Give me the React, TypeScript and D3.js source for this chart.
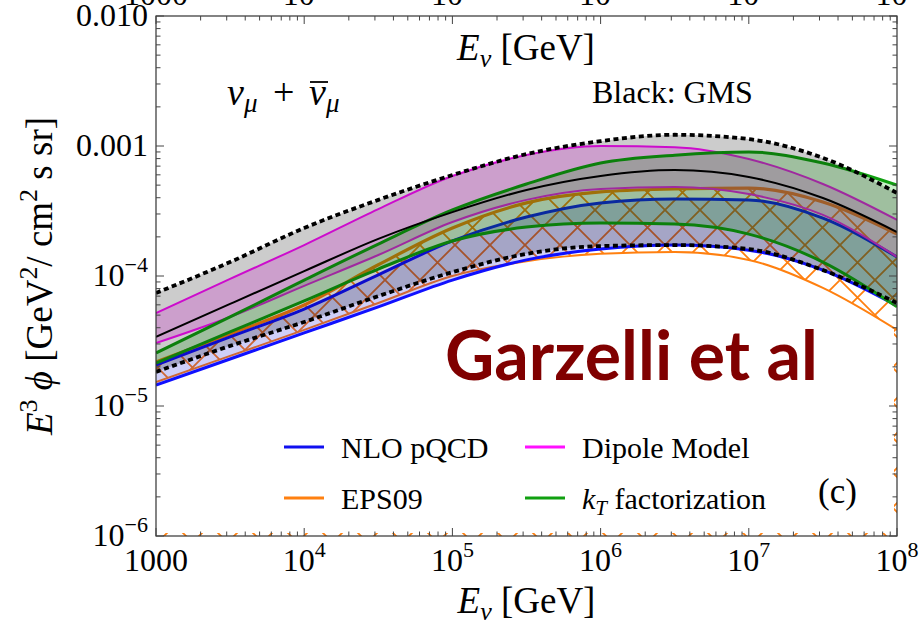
import React from 'react';
import * as d3 from 'd3';

// Neutrino energies (GeV), half-decade grid
const energy = [1000, 3162, 10000, 31623, 100000, 316228, 1000000, 3162278, 10000000, 31622777, 100000000];

// GMS (black): band and central
const gmsUpper = [7.4e-5, 1.28e-4, 2.34e-4, 3.85e-4, 5.98e-4, 8.67e-4, 1.09e-3, 1.22e-3, 1.13e-3, 8.1e-4, 4.35e-4];
const gmsCentral = [3.4e-5, 6.1e-5, 1.09e-4, 1.93e-4, 3.1e-4, 4.59e-4, 5.88e-4, 6.53e-4, 5.78e-4, 3.98e-4, 2.18e-4];
const gmsLower = [1.83e-5, 2.9e-5, 4.43e-5, 7.0e-5, 1.07e-4, 1.48e-4, 1.7e-4, 1.73e-4, 1.61e-4, 1.11e-4, 6.2e-5];
// Dipole model (magenta)
const dipoleUpper = [5.19e-5, 9.5e-5, 1.73e-4, 3.27e-4, 5.88e-4, 8.53e-4, 1.0e-3, 9.8e-4, 7.94e-4, 5.1e-4, 2.7e-4];
const dipoleLower = [3.05e-5, 4.84e-5, 8.4e-5, 1.45e-4, 2.6e-4, 3.85e-4, 4.67e-4, 4.84e-4, 4.27e-4, 2.95e-4, 1.4e-4];
// kT factorization (green)
const ktUpper = [2.56e-5, 4.84e-5, 9.3e-5, 1.76e-4, 3.22e-4, 5.1e-4, 7.4e-4, 8.5e-4, 9.0e-4, 7.4e-4, 5.0e-4];
const ktLower = [2.14e-5, 3.71e-5, 6.43e-5, 1.13e-4, 1.86e-4, 2.38e-4, 2.56e-4, 2.51e-4, 2.1e-4, 1.28e-4, 5.8e-5];
// NLO pQCD (blue)
const nloUpper = [2.07e-5, 3.4e-5, 5.57e-5, 1.02e-4, 1.86e-4, 2.84e-4, 3.65e-4, 3.91e-4, 3.85e-4, 2.79e-4, 1.4e-4];
const nloLower = [1.45e-5, 2.3e-5, 3.65e-5, 5.78e-5, 9.3e-5, 1.33e-4, 1.61e-4, 1.73e-4, 1.58e-4, 1.11e-4, 5.9e-5];
// EPS09 (orange, hatched)
const epsUpper = [2.18e-5, 3.58e-5, 5.98e-5, 1.22e-4, 2.34e-4, 3.65e-4, 4.43e-4, 4.67e-4, 4.75e-4, 3.71e-4, 2.1e-4];
const epsLower = [1.53e-5, 2.43e-5, 3.85e-5, 6.2e-5, 1.0e-4, 1.3e-4, 1.48e-4, 1.53e-4, 1.33e-4, 8.1e-5, 3.85e-5];

const xMajor = [1e3, 1e4, 1e5, 1e6, 1e7, 1e8];
const xMajorBase = ['1000', '10', '10', '10', '10', '10'];
const xMajorExp = ['', '4', '5', '6', '7', '8'];
const yMajor = [1e-6, 1e-5, 1e-4, 1e-3, 1e-2];
const yMajorBase = ['10', '10', '10', '0.001', '0.010'];
const yMajorExp = ['\u22126', '\u22125', '\u22124', '', ''];

const legendNames = ['NLO pQCD', 'EPS09', 'Dipole Model', 'factorization'];
const legendColors = ['#1010f0', '#ff8010', '#ff10ff', '#10a010'];

const SERIF = '"Liberation Serif", "Times New Roman", serif';

export default function App() {
  const W = 920, H = 632;
  const L = 156, R = 897, T = 16, B = 536;
  const x = d3.scaleLog().domain([1e3, 1e8]).range([L, R]);
  const y = d3.scaleLog().domain([1e-6, 1e-2]).range([B, T]);
  const curve = d3.curveMonotoneX;
  const line = (v: number[]) =>
    d3.line<number>().x((_, i) => x(energy[i])).y((d) => y(d)).curve(curve)(v) || '';
  const area = (lo: number[], hi: number[]) =>
    d3.area<number>().x((_, i) => x(energy[i])).y0((_, i) => y(lo[i])).y1((_, i) => y(hi[i])).curve(curve)(lo) || '';

  const xMinor: number[] = [];
  for (let d = 1e3; d < 1e8; d *= 10) for (let k = 2; k <= 9; k++) xMinor.push(d * k);
  const yMinor: number[] = [];
  for (let d = 1e-6; d < 1e-2 * 0.99; d *= 10) for (let k = 2; k <= 9; k++) yMinor.push(d * k);

  const tickColor = '#444';

  return (
    <svg width={W} height={H} style={{ position: 'absolute', left: 0, top: 0, background: '#fff' }}>
      <defs>
        <clipPath id="plotclip">
          <rect x={L} y={T} width={R - L} height={B - T} />
        </clipPath>
        <pattern id="hatch" patternUnits="userSpaceOnUse" width={35} height={35}>
          <path d="M0,0 L35,35 M35,0 L0,35 M-2,33 L2,37 M33,-2 L37,2 M-2,2 L2,-2 M33,37 L37,33" stroke="#ff8010" strokeWidth={1.8} fill="none" />
        </pattern>
      </defs>

      <g clipPath="url(#plotclip)">
        {/* EPS09 hatch residue along the frame */}
        <rect x={L} y={B - 3} width={R - L} height={3} fill="url(#hatch)" />
        <rect x={R - 3} y={y(4e-5)} width={3} height={B - y(4e-5)} fill="url(#hatch)" />
        {/* EPS09 */}
        <path d={area(epsLower, epsUpper)} fill="url(#hatch)" />
        <path d={line(epsUpper)} fill="none" stroke="#ff8010" strokeWidth={3.2} />
        <path d={line(epsLower)} fill="none" stroke="#ff8010" strokeWidth={2} />
        {/* NLO */}
        <path d={area(nloLower, nloUpper)} fill="rgb(0,0,220)" fillOpacity={0.19} />
        <path d={line(nloUpper)} fill="none" stroke="#1010ff" strokeWidth={3} />
        <path d={line(nloLower)} fill="none" stroke="#1010ff" strokeWidth={3} />
        {/* Dipole */}
        <path d={area(dipoleLower, dipoleUpper)} fill="rgb(255,0,255)" fillOpacity={0.22} />
        <path d={line(dipoleUpper)} fill="none" stroke="#ff10ff" strokeWidth={2} />
        <path d={line(dipoleLower)} fill="none" stroke="#ff10ff" strokeWidth={2} />
        {/* kT */}
        <path d={area(ktLower, ktUpper)} fill="rgb(0,180,0)" fillOpacity={0.22} />
        <path d={line(ktUpper)} fill="none" stroke="#10a010" strokeWidth={3} />
        <path d={line(ktLower)} fill="none" stroke="#10a010" strokeWidth={3} />
        {/* GMS */}
        <path d={area(gmsLower, gmsUpper)} fill="#000" fillOpacity={0.2} />
        <path d={line(gmsCentral)} fill="none" stroke="#000" strokeWidth={2} />
        <path d={line(gmsUpper)} fill="none" stroke="#000" strokeWidth={3.8} strokeDasharray="5 3.5" />
        <path d={line(gmsLower)} fill="none" stroke="#000" strokeWidth={3.8} strokeDasharray="5 3.5" />
      </g>

      {/* frame */}
      <rect x={L} y={T} width={R - L} height={B - T} fill="none" stroke="#333" strokeWidth={1.2} />

      {/* x ticks */}
      {xMajor.map((v, i) => (
        <g key={'xM' + i}>
          <line x1={x(v)} x2={x(v)} y1={B} y2={B - 8} stroke={tickColor} strokeWidth={1} />
          <line x1={x(v)} x2={x(v)} y1={T} y2={T + 8} stroke={tickColor} strokeWidth={1} />
          <text x={x(v)} y={571} textAnchor="middle" fontFamily={SERIF} fontSize={32}>
            {xMajorBase[i]}
            {xMajorExp[i] && <tspan dy={-14} fontSize={22}>{xMajorExp[i]}</tspan>}
          </text>
          <text x={x(v)} y={5} textAnchor="middle" fontFamily={SERIF} fontSize={32}>
            {xMajorBase[i]}
            {xMajorExp[i] && <tspan dy={-14} fontSize={22}>{xMajorExp[i]}</tspan>}
          </text>
        </g>
      ))}
      {xMinor.map((v, i) => (
        <g key={'xm' + i}>
          <line x1={x(v)} x2={x(v)} y1={B} y2={B - 4.5} stroke={tickColor} strokeWidth={1} />
          <line x1={x(v)} x2={x(v)} y1={T} y2={T + 4.5} stroke={tickColor} strokeWidth={1} />
        </g>
      ))}

      {/* y ticks */}
      {yMajor.map((v, i) => (
        <g key={'yM' + i}>
          <line x1={L} x2={L + 8} y1={y(v)} y2={y(v)} stroke={tickColor} strokeWidth={1} />
          <line x1={R} x2={R - 8} y1={y(v)} y2={y(v)} stroke={tickColor} strokeWidth={1} />
          <text x={148} y={y(v) + 10} textAnchor="end" fontFamily={SERIF} fontSize={32}>
            {yMajorBase[i]}
            {yMajorExp[i] && <tspan dy={-14} fontSize={22}>{yMajorExp[i]}</tspan>}
          </text>
        </g>
      ))}
      {yMinor.map((v, i) => (
        <g key={'ym' + i}>
          <line x1={L} x2={L + 4.5} y1={y(v)} y2={y(v)} stroke={tickColor} strokeWidth={1} />
          <line x1={R} x2={R - 4.5} y1={y(v)} y2={y(v)} stroke={tickColor} strokeWidth={1} />
        </g>
      ))}

      {/* axis labels */}
      <text x={(L + R) / 2} y={613} textAnchor="middle" fontFamily={SERIF} fontSize={37}>
        <tspan fontStyle="italic">E</tspan>
        <tspan fontStyle="italic" fontSize={26} dy={7}>ν</tspan>
        <tspan dy={-7}> [GeV]</tspan>
      </text>
      <text x={526} y={60} textAnchor="middle" fontFamily={SERIF} fontSize={37}>
        <tspan fontStyle="italic">E</tspan>
        <tspan fontStyle="italic" fontSize={26} dy={7}>ν</tspan>
        <tspan dy={-7}> [GeV]</tspan>
      </text>
      <text transform={`translate(52,${(T + B) / 2}) rotate(-90)`} textAnchor="middle" fontFamily={SERIF} fontSize={37}>
        <tspan fontStyle="italic">E</tspan>
        <tspan fontSize={26} dy={-15}>3</tspan>
        <tspan dy={15} fontStyle="italic"> ϕ</tspan>
        <tspan> [GeV</tspan>
        <tspan fontSize={26} dy={-15}>2</tspan>
        <tspan dy={15}>/ cm</tspan>
        <tspan fontSize={26} dy={-15}>2</tspan>
        <tspan dy={15}> s sr]</tspan>
      </text>

      {/* annotations */}
      <text x={227} y={105} fontFamily={SERIF} fontSize={38}>
        <tspan fontStyle="italic">ν</tspan>
        <tspan fontStyle="italic" fontSize={27} dy={7}>μ</tspan>
      </text>
      <text x={273} y={105} fontFamily={SERIF} fontSize={38}>+</text>
      <text x={309} y={105} fontFamily={SERIF} fontSize={38}>
        <tspan fontStyle="italic">ν</tspan>
        <tspan fontStyle="italic" fontSize={27} dy={7}>μ</tspan>
      </text>
      <line x1={310} x2={328} y1={82} y2={82} stroke="#000" strokeWidth={1.8} />
      <text x={592} y={103} fontFamily={SERIF} fontSize={32}>Black: GMS</text>
      <text x={445} y={380} fontFamily="Lato, 'Open Sans', sans-serif" fontWeight={700} fontSize={68} fill="#800000">Garzelli et al</text>
      <text x={818} y={503} fontFamily={SERIF} fontSize={35}>(c)</text>

      {/* legend */}
      {legendNames.map((n, i) => {
        const lx = i < 2 ? 284 : 525;
        const ly = i % 2 === 0 ? 447 : 498;
        return (
          <g key={'lg' + i}>
            <line x1={lx} x2={lx + 40} y1={ly} y2={ly} stroke={legendColors[i]} strokeWidth={3} />
            <text x={lx + 57} y={ly + 11} fontFamily={SERIF} fontSize={30}>
              {i === 3 ? (
                <>
                  <tspan fontStyle="italic">k</tspan>
                  <tspan fontStyle="italic" fontSize={21} dy={6}>T</tspan>
                  <tspan dy={-6}>{' ' + n}</tspan>
                </>
              ) : n}
            </text>
          </g>
        );
      })}
    </svg>
  );
}
